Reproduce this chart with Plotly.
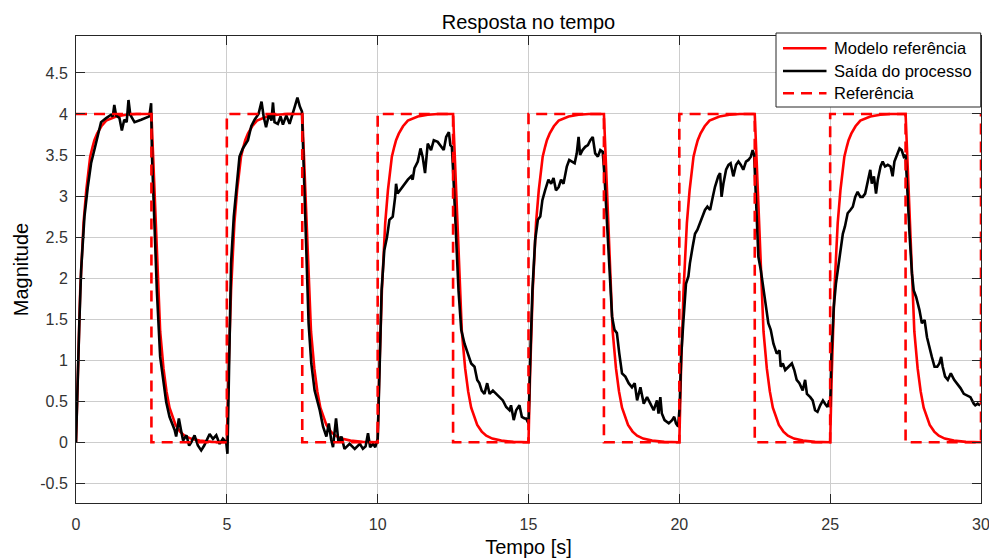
import plotly.graph_objects as go

# ---------------- data ----------------
# Referência (square wave)
ref_t = [0, 2.5, 2.5, 5, 5, 7.5, 7.5, 10, 10, 12.5, 12.5, 15, 15, 17.5, 17.5,
         20, 20, 22.5, 22.5, 25, 25, 27.5, 27.5, 30, 30]
ref_v = [4, 4, 0, 0, 4, 4, 0, 0, 4, 4, 0, 0, 4, 4, 0,
         0, 4, 4, 0, 0, 4, 4, 0, 0, 4]

# Modelo referência: shape read after each step (time since the step, value)
model_rise_dt = [0, 0.05, 0.10, 0.14, 0.20, 0.25, 0.34, 0.40, 0.47, 0.55, 0.61, 0.70, 0.84, 1.00, 1.33, 1.66, 2.00, 2.50]
model_rise_v = [0, 0.80, 1.43, 1.85, 2.30, 2.67, 3.07, 3.30, 3.48, 3.60, 3.68, 3.76, 3.85, 3.92, 3.97, 3.99, 4.00, 4.00]
model_fall_dt = [0, 0.05, 0.10, 0.15, 0.20, 0.29, 0.40, 0.50, 0.60, 0.70, 0.80, 0.95, 1.10, 1.30, 1.60, 2.00, 2.50]
model_fall_v = [4.00, 3.55, 3.00, 2.50, 2.05, 1.35, 0.90, 0.62, 0.42, 0.30, 0.21, 0.13, 0.08, 0.045, 0.02, 0.005, 0.0]
rise_starts = [0, 5, 10, 15, 20, 25]
fall_starts = [2.5, 7.5, 12.5, 17.5, 22.5, 27.5]

# Saída do processo
saida_t = [
    0.0, 0.06, 0.11, 0.17, 0.28, 0.39, 0.5, 0.66, 0.83, 1.0, 1.16, 1.22, 1.27, 1.33, 1.44, 1.52, 1.6, 1.68, 1.74, 1.8,
    1.94, 2.16, 2.43, 2.49, 2.52, 2.6, 2.68, 2.79, 2.88, 2.99, 3.1, 3.27, 3.32, 3.41, 3.48, 3.55, 3.66, 3.75, 3.82, 3.93,
    4.04, 4.15, 4.25, 4.32, 4.43, 4.54, 4.65, 4.76, 4.87, 4.98, 5.02,
    5.05, 5.09, 5.14, 5.23, 5.31, 5.42, 5.53, 5.7, 5.81, 5.92, 6.05, 6.1, 6.15, 6.22, 6.3, 6.4, 6.48, 6.53, 6.58, 6.69,
    6.78, 6.86, 6.97, 7.08, 7.19, 7.26, 7.34, 7.42, 7.49, 7.54, 7.63, 7.71, 7.8, 7.91, 8.08, 8.19, 8.3, 8.38, 8.46, 8.52,
    8.62, 8.7, 8.8, 8.9, 9.07, 9.24, 9.41, 9.51, 9.6, 9.68, 9.75, 9.85, 9.92, 10.0,
    10.06, 10.13, 10.22, 10.31, 10.39, 10.5, 10.58, 10.61, 10.66, 10.77, 10.88, 11.0, 11.11, 11.16, 11.22, 11.33, 11.42,
    11.49, 11.57, 11.66, 11.77, 11.86, 11.99, 12.1, 12.19, 12.27, 12.36, 12.41, 12.46, 12.51, 12.6, 12.68, 12.77, 12.88,
    12.99, 13.1, 13.21, 13.3, 13.37, 13.45, 13.54, 13.63, 13.71, 13.82, 13.93, 14.04, 14.15, 14.26, 14.37, 14.42, 14.51,
    14.59, 14.7, 14.78, 14.87, 14.92, 15.0,
    15.06, 15.13, 15.22, 15.31, 15.39, 15.46, 15.55, 15.66, 15.75, 15.83, 15.91, 16.0, 16.08, 16.16, 16.27, 16.35, 16.44,
    16.53, 16.6, 16.66, 16.71, 16.79, 16.88, 16.97, 17.05, 17.13, 17.21, 17.3, 17.38, 17.46, 17.52, 17.6, 17.68, 17.77,
    17.85, 17.93, 18.01, 18.1, 18.21, 18.32, 18.43, 18.52, 18.6, 18.71, 18.82, 18.93, 19.04, 19.15, 19.26, 19.31, 19.37,
    19.42, 19.51, 19.65, 19.76, 19.83, 19.89, 19.96, 20.01,
    20.06, 20.13, 20.22, 20.3, 20.35, 20.44, 20.52, 20.6, 20.69, 20.77, 20.85, 20.93, 21.02, 21.11, 21.18, 21.29, 21.35,
    21.4, 21.46, 21.55, 21.63, 21.7, 21.79, 21.88, 21.96, 22.04, 22.12, 22.21, 22.29, 22.37, 22.43, 22.48, 22.54, 22.62,
    22.7, 22.79, 22.88, 22.95, 23.03, 23.12, 23.23, 23.32, 23.36, 23.43, 23.51, 23.62, 23.73, 23.81, 23.89, 23.98, 24.09,
    24.17, 24.23, 24.34, 24.42, 24.5, 24.58, 24.67, 24.76, 24.83, 24.91, 24.97, 25.0,
    25.04, 25.12, 25.19, 25.27, 25.36, 25.42, 25.49, 25.58, 25.67, 25.75, 25.83, 25.91, 26.0, 26.08, 26.16, 26.25, 26.33,
    26.38, 26.45, 26.52, 26.58, 26.67, 26.74, 26.82, 26.91, 27.0, 27.07, 27.13, 27.22, 27.3, 27.37, 27.44, 27.5, 27.55,
    27.63, 27.71, 27.77, 27.85, 27.96, 28.04, 28.13, 28.21, 28.3, 28.37, 28.46, 28.55, 28.62, 28.68, 28.73, 28.81, 28.9,
    29.0, 29.11, 29.2, 29.32, 29.43, 29.54, 29.65, 29.76, 29.81, 29.89, 29.97,
]
saida_v = [
    0.0, 0.9, 1.45, 2.1, 2.75, 3.11, 3.4, 3.64, 3.9, 3.95, 3.99, 3.97, 4.11, 3.98, 3.95, 3.8, 3.93, 3.9, 4.17, 3.99,
    3.9, 3.93, 3.97, 4.13, 3.48, 2.67, 1.85, 1.04, 0.76, 0.49, 0.31, 0.15, 0.07, 0.29, 0.15, 0.02, 0.085, -0.04, 0.0, 0.085,
    -0.04, -0.1, -0.04, 0.02, 0.1, 0.04, 0.085, -0.02, 0.045, 0.0, -0.14,
    0.43, 1.24, 2.18, 2.75, 3.07, 3.48, 3.58, 3.68, 3.85, 3.93, 4.0, 4.1, 4.15, 3.97, 3.84, 4.0, 3.92, 4.14, 3.9, 3.88,
    3.97, 3.87, 3.98, 3.88, 4.0, 4.1, 4.2, 4.09, 4.03, 3.48, 2.46, 1.45, 0.96, 0.63, 0.39, 0.19, 0.07, 0.23, 0.03, -0.06,
    0.29, 0.0, 0.07, -0.08, -0.02, -0.08, -0.02, -0.08, -0.05, 0.11, -0.06, -0.02, -0.06, 0.04,
    0.84, 1.85, 2.34, 2.5, 2.71, 2.75, 2.99, 3.15, 3.03, 3.09, 3.15, 3.2, 3.24, 3.2, 3.34, 3.42, 3.58,
    3.48, 3.28, 3.64, 3.56, 3.68, 3.66, 3.6, 3.56, 3.72, 3.78, 3.62, 3.6, 3.24, 2.46, 1.85, 1.37, 1.2,
    1.08, 0.96, 0.92, 0.76, 0.72, 0.63, 0.59, 0.72, 0.59, 0.63, 0.59, 0.55, 0.51, 0.43, 0.39, 0.45, 0.27,
    0.39, 0.45, 0.31, 0.29, 0.29, 0.23,
    1.04, 1.85, 2.46, 2.71, 2.75, 2.95, 3.07, 3.2, 3.15, 3.22, 3.07, 3.11, 3.2, 3.15, 3.36, 3.44, 3.42,
    3.4, 3.52, 3.72, 3.5, 3.56, 3.6, 3.62, 3.68, 3.72, 3.52, 3.48, 3.56, 3.54, 3.24, 2.67, 2.06, 1.53,
    1.37, 1.33, 1.08, 0.84, 0.8, 0.72, 0.67, 0.72, 0.51, 0.67, 0.47, 0.55, 0.47, 0.39, 0.51, 0.35, 0.55,
    0.35, 0.27, 0.23, 0.27, 0.31, 0.23, 0.19, 0.43,
    1.04, 1.45, 1.93, 2.02, 2.18, 2.38, 2.54, 2.59, 2.67, 2.75, 2.83, 2.87, 2.83, 2.99, 3.11, 3.24, 3.28,
    2.99, 3.15, 3.32, 3.38, 3.4, 3.24, 3.38, 3.42, 3.38, 3.32, 3.42, 3.44, 3.48, 3.56, 3.5, 2.87, 2.26,
    2.1, 1.85, 1.61, 1.45, 1.37, 1.2, 1.08, 1.12, 0.92, 0.96, 0.88, 0.92, 0.96, 0.88, 0.76, 0.72, 0.63,
    0.76, 0.59, 0.55, 0.51, 0.39, 0.37, 0.45, 0.51, 0.47, 0.43, 0.51, 0.43,
    1.04, 1.65, 1.93, 2.14, 2.38, 2.54, 2.63, 2.79, 2.83, 2.87, 2.99, 3.05, 2.99, 2.99, 3.03, 3.2, 3.32,
    3.15, 3.24, 3.03, 3.2, 3.36, 3.42, 3.36, 3.38, 3.36, 3.24, 3.42, 3.52, 3.58, 3.56, 3.48, 3.5, 3.07,
    2.54, 2.06, 1.85, 1.77, 1.61, 1.45, 1.49, 1.28, 1.12, 1.04, 0.92, 0.92, 0.96, 1.04, 0.92, 0.8, 0.76,
    0.84, 0.76, 0.72, 0.66, 0.59, 0.57, 0.55, 0.47, 0.45, 0.47, 0.45,
]

x_ticks = [0, 5, 10, 15, 20, 25, 30]
y_ticks = [-0.5, 0, 0.5, 1, 1.5, 2, 2.5, 3, 3.5, 4, 4.5]
y_ticktext = ["-0.5", "0", "0.5", "1", "1.5", "2", "2.5", "3", "3.5", "4", "4.5"]
legend_names = ["Modelo referência", "Saída do processo", "Referência"]

# build the model series from the read step shapes
model_t, model_v = [], []
for rs, fs in zip(rise_starts, fall_starts):
    model_t += [rs + d for d in model_rise_dt[:-1]]
    model_v += model_rise_v[:-1]
    model_t += [fs + d for d in model_fall_dt]
    model_v += model_fall_v

FONT = "Liberation Sans, Arial, Helvetica, sans-serif"
W, H = 989, 558
ML, MR, MT, MB = 76, 8, 36, 55
PW, PH = W - ML - MR, H - MT - MB


def px(x):  # page pixel -> paper x
    return (x - ML) / PW


def py(y):  # page pixel -> paper y
    return (H - MB - y) / PH


RED = "#ff0000"
LW = 2.6
DASH = "11px,7px"
styles = [dict(color=RED, width=LW), dict(color="#000000", width=LW), dict(color=RED, width=LW, dash=DASH)]

fig = go.Figure()
fig.add_trace(go.Scatter(x=model_t, y=model_v, mode="lines", name=legend_names[0], line=styles[0]))
fig.add_trace(go.Scatter(x=saida_t, y=saida_v, mode="lines", name=legend_names[1], line=styles[1]))
fig.add_trace(go.Scatter(x=ref_t, y=ref_v, mode="lines", name=legend_names[2], line=styles[2]))

axis_common = dict(
    showgrid=True, gridcolor="#cdcdcd", gridwidth=1,
    showline=True, linecolor="#262626", linewidth=1, mirror="ticks",
    ticks="inside", ticklen=9, tickcolor="#262626", tickwidth=1,
    tickfont=dict(family=FONT, size=16, color="#333333"),
    zeroline=False, automargin=False, ticklabeloverflow="allow",
)

# legend box (drawn like the MATLAB legend)
shapes = [dict(type="rect", xref="paper", yref="paper", x0=px(776), x1=px(980.7), y0=py(107), y1=py(33),
               line=dict(color="#262626", width=1), fillcolor="white", layer="above")]
annotations = []
row_y = [48.3, 71, 93.3]
for name, st, ry in zip(legend_names, styles, row_y):
    shapes.append(dict(type="line", xref="paper", yref="paper", x0=px(783), x1=px(826.5), y0=py(ry), y1=py(ry),
                       line=st, layer="above"))
    annotations.append(dict(text=name, xref="paper", yref="paper", x=px(832), y=py(ry), xanchor="left",
                            yanchor="middle", showarrow=False, font=dict(family=FONT, size=16.5, color="#000000")))

fig.update_layout(
    width=W, height=H,
    margin=dict(l=ML, r=MR, t=MT, b=MB),
    paper_bgcolor="white", plot_bgcolor="white",
    font=dict(family=FONT, size=16, color="#262626"),
    title=dict(text="Resposta no tempo", x=0.5, xref="paper", xanchor="center",
               y=1 - 21.5 / H, yref="container", yanchor="middle",
               font=dict(family=FONT, size=20, color="#000000")),
    showlegend=False,
    shapes=shapes,
    annotations=annotations,
    xaxis=dict(range=[0, 30], tickvals=x_ticks, ticklabelstandoff=7,
               title=dict(text="Tempo [s]", font=dict(family=FONT, size=20, color="#000000"), standoff=16),
               **axis_common),
    yaxis=dict(range=[-0.74, 4.95], tickvals=y_ticks, ticktext=y_ticktext, ticklabelstandoff=4,
               title=dict(text="Magnitude", font=dict(family=FONT, size=20, color="#000000"), standoff=6),
               **axis_common),
)

fig.write_html("out.html")
